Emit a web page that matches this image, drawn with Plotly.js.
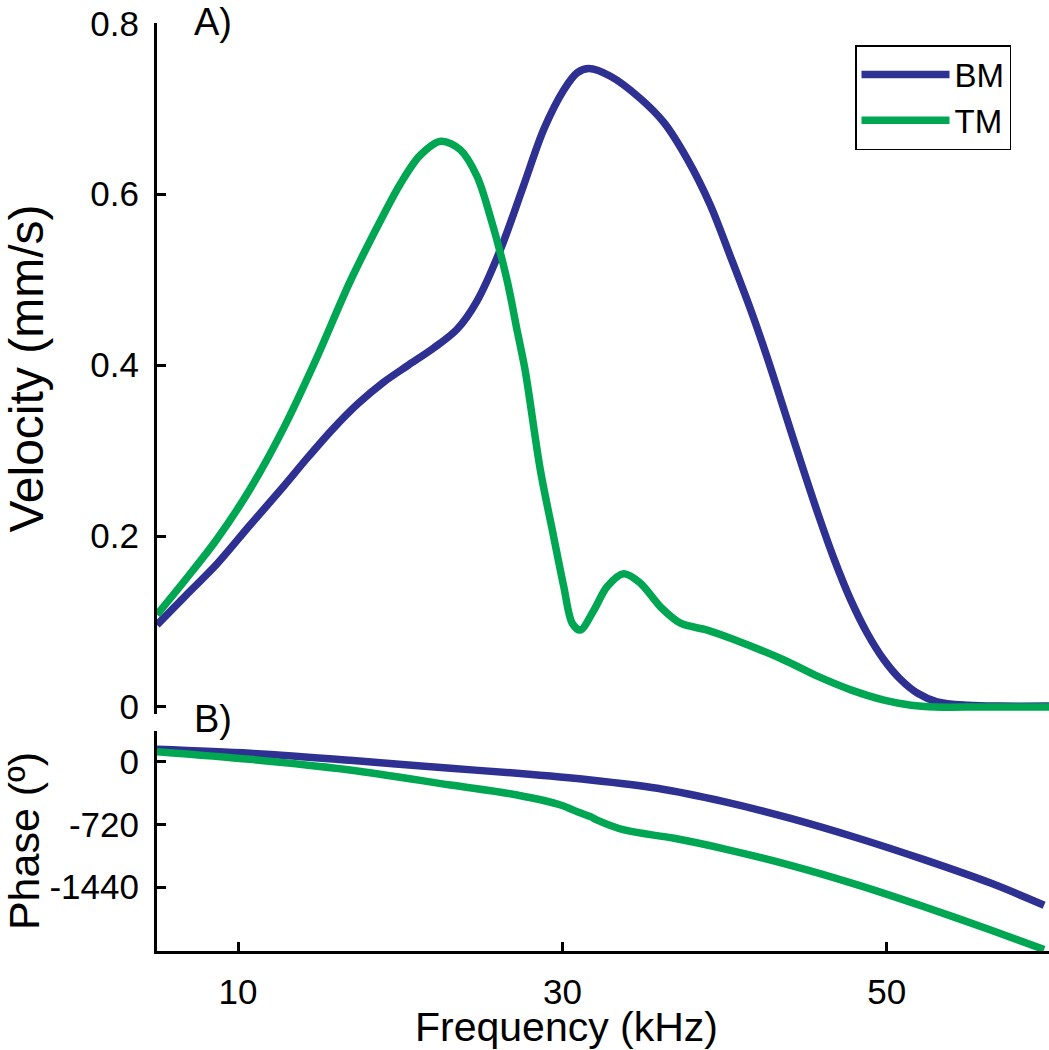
<!DOCTYPE html>
<html>
<head>
<meta charset="utf-8">
<script src="https://cdn.plot.ly/plotly-3.0.1.min.js"></script>
<style>html,body{margin:0;padding:0;background:#fff;}#chart{width:1049px;height:1050px;}</style>
</head>
<body>
<div id="chart"></div>
<script>
// ---- Data ----
const bmFreq = [5, 6.8, 8.68, 10.7, 12.8, 14.3, 15.88, 17.4, 18.97, 20.5, 22.06, 23.5, 24.73, 26.17, 27.6, 28.85, 30.08, 30.9, 31.62, 32.96, 34.8, 36.25, 37.7, 39.1, 40.4, 41.6, 42.64, 43.66, 44.69, 45.72, 46.75, 47.78, 48.8, 49.83, 50.86, 51.9, 53.1, 55, 57, 60];
const bmVel  = [0.096, 0.131, 0.167, 0.212, 0.258, 0.292, 0.326, 0.355, 0.380, 0.400, 0.420, 0.442, 0.475, 0.535, 0.610, 0.676, 0.722, 0.742, 0.747, 0.738, 0.712, 0.684, 0.641, 0.588, 0.525, 0.465, 0.408, 0.348, 0.287, 0.228, 0.173, 0.125, 0.086, 0.055, 0.032, 0.016, 0.006, 0.002, 0.001, 0.001];

const tmFreq = [5, 6.8, 8.68, 10.74, 12.8, 14.86, 16.91, 18.97, 20.0, 21.2, 22.5, 23.7, 24.73, 25.56, 26.59, 27.2, 27.7, 28.64, 29.46, 30.08, 30.6, 31.1, 31.93, 32.76, 33.78, 34.8, 36.05, 37.28, 38.93, 40.57, 43.66, 45.72, 47.78, 49.83, 51.5, 53, 56, 60];
const tmVel  = [0.108, 0.150, 0.196, 0.255, 0.326, 0.409, 0.498, 0.576, 0.612, 0.645, 0.662, 0.652, 0.621, 0.573, 0.499, 0.441, 0.394, 0.277, 0.199, 0.141, 0.098, 0.090, 0.113, 0.141, 0.156, 0.145, 0.117, 0.098, 0.090, 0.079, 0.055, 0.036, 0.020, 0.008, 0.002, 0.0, 0.0, 0.0];

const bmPhaseFreq = [5, 10.74, 16.9, 23.1, 27.2, 31.73, 35.85, 39.96, 44.07, 48.19, 52.3, 56.4, 59.7];
const bmPhase     = [146, 100, 20, -73, -130, -207, -303, -457, -649, -875, -1125, -1395, -1650];

const tmPhaseFreq = [5, 10.74, 16.9, 23.1, 27.2, 29.88, 31.0, 31.73, 32.14, 33.8, 36.88, 39.96, 44.07, 48.19, 52.3, 56.4, 59.7];
const tmPhase     = [119, 31, -92, -265, -380, -495, -580, -630, -670, -783, -879, -1000, -1190, -1415, -1667, -1935, -2160];

const xTickVals = [10, 30, 50];
const xTickText = ['10', '30', '50'];
const velTickVals = [0, 0.2, 0.4, 0.6, 0.8];
const velTickText = ['0', '0.2', '0.4', '0.6', '0.8'];
const phaseTickVals = [0, -720, -1440];
const phaseTickText = ['0', '-720', '-1440'];

const seriesNames = ['BM', 'TM'];
const colBM = '#2e3192';
const colTM = '#00a651';

// ---- Figure ----
const FONT = 'Liberation Sans, Arial, Helvetica, sans-serif';
const LW = 7.5;
const lineStyle = c => ({color: c, width: LW, shape: 'spline', smoothing: 0.9});

const traces = [
  {x: bmFreq, y: bmVel, name: seriesNames[0], xaxis: 'x2', yaxis: 'y', mode: 'lines', line: lineStyle(colBM)},
  {x: tmFreq, y: tmVel, name: seriesNames[1], xaxis: 'x2', yaxis: 'y', mode: 'lines', line: lineStyle(colTM)},
  {x: bmPhaseFreq, y: bmPhase, name: seriesNames[0], xaxis: 'x', yaxis: 'y2', mode: 'lines', showlegend: false, line: lineStyle(colBM)},
  {x: tmPhaseFreq, y: tmPhase, name: seriesNames[1], xaxis: 'x', yaxis: 'y2', mode: 'lines', showlegend: false, line: lineStyle(colTM)}
];

const H = 1050, L = 157, PW = 1049 - 157;
const fy = py => 1 - py / H;
const fx = px => (px - L) / PW;

const axisCommon = {
  showline: true, linecolor: '#000', linewidth: 3,
  ticks: 'inside', ticklen: 9, tickwidth: 3, tickcolor: '#000',
  showgrid: false, zeroline: false,
  tickfont: {family: FONT, size: 35, color: '#000'},
  tickmode: 'array', fixedrange: true
};

const layout = {
  width: 1049, height: 1050,
  margin: {l: L, r: 0, t: 0, b: 0},
  paper_bgcolor: '#fff', plot_bgcolor: '#fff',
  font: {family: FONT, color: '#000'},
  showlegend: true,
  legend: {
    x: fx(855), xanchor: 'left', y: fy(45), yanchor: 'top',
    bordercolor: '#000', borderwidth: 1.5, bgcolor: '#fff',
    font: {family: FONT, size: 33, color: '#000'},
    itemwidth: 88, tracegroupgap: 0
  },
  xaxis: Object.assign({}, axisCommon, {
    domain: [0, 1], range: [5, 60], anchor: 'y2',
    tickvals: xTickVals, ticktext: xTickText, ticklabelstandoff: 8
  }),
  xaxis2: {domain: [0, 1], range: [5, 60], anchor: 'y', matches: 'x', visible: false, fixedrange: true},
  yaxis: Object.assign({}, axisCommon, {
    domain: [fy(713.8), fy(23.3)], range: [-0.008, 0.8], anchor: 'x2',
    tickvals: velTickVals, ticktext: velTickText, ticklabelstandoff: 8,
    title: {text: 'Velocity (mm/s)', font: {family: FONT, size: 48, color: '#000'}, standoff: 44}
  }),
  yaxis2: Object.assign({}, axisCommon, {
    domain: [fy(951), fy(731)], range: [-2177, 357], anchor: 'x',
    tickvals: phaseTickVals, ticktext: phaseTickText, ticklabelstandoff: 8,
    title: {text: 'Phase (º)', font: {family: FONT, size: 43, color: '#000'}, standoff: 7}
  }),
  annotations: [
    {text: 'A)', xref: 'paper', yref: 'paper', x: fx(213), y: fy(22), xanchor: 'center', yanchor: 'middle',
     showarrow: false, font: {family: FONT, size: 38, color: '#000'}},
    {text: 'B)', xref: 'paper', yref: 'paper', x: fx(213), y: fy(719), xanchor: 'center', yanchor: 'middle',
     showarrow: false, font: {family: FONT, size: 38, color: '#000'}},
    {text: 'Frequency (kHz)', xref: 'paper', yref: 'paper', x: fx(566), y: -2 / H, xanchor: 'center', yanchor: 'bottom',
     showarrow: false, font: {family: FONT, size: 41, color: '#000'}}
  ]
};

Plotly.newPlot('chart', traces, layout, {staticPlot: true, displayModeBar: false});
</script>
</body>
</html>
